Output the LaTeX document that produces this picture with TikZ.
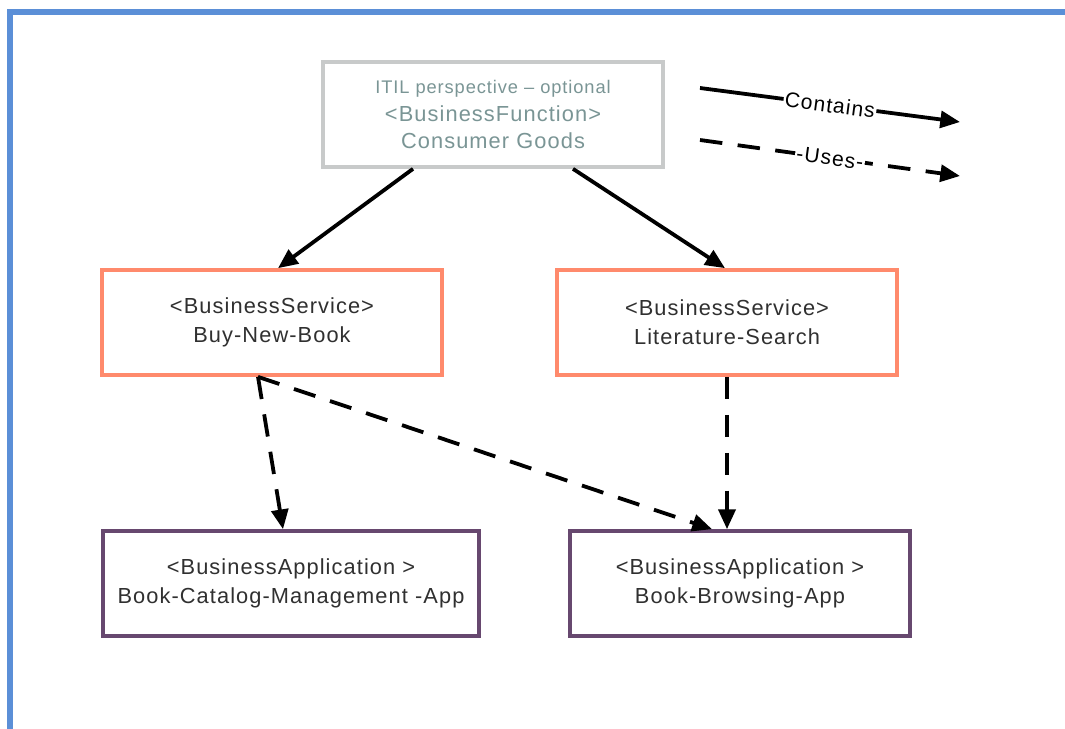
\documentclass[tikz,border=0pt]{standalone}
\usepackage{fontspec}
\setmainfont{Liberation Sans}[LetterSpace=5]
\usetikzlibrary{arrows.meta}
\definecolor{framebl}{HTML}{5B8FD7}
\definecolor{funcgray}{HTML}{C8CACA}
\definecolor{functxt}{HTML}{7A9595}
\definecolor{servor}{HTML}{FF8A6C}
\definecolor{apppu}{HTML}{67486F}
\definecolor{txtgray}{HTML}{303030}
\begin{document}
\begin{tikzpicture}[x=0.025cm,y=-0.025cm,
    box/.style={draw,line width=2.6pt,fill=white,align=center,inner sep=0pt,
        minimum width=8.5cm,minimum height=2.625cm,text=txtgray,
        font=\fontsize{15.5}{20.5}\selectfont},
    func/.style={box,draw=funcgray,text=functxt,font=\fontsize{15.5}{19.5}\selectfont},
    serv/.style={box,draw=servor},
    app/.style={box,draw=apppu},
    contains/.style={line width=2.7pt,-{Triangle[length=14pt,width=12pt]}},
    uses/.style={contains,dash pattern=on 16pt off 11pt},
    legtxt/.style={sloped,fill=white,inner sep=1pt,text=black,font=\fontsize{15}{18}\selectfont}]
    \useasboundingbox (0,0) rectangle (1065,729);
    % frame
    \draw[framebl,line width=3.6pt] (10,729) -- (10,12) -- (1065,12);
    % boxes
    \node[func] (goods) at (493,114.5) {{\fontsize{13}{19.5}\selectfont ITIL perspective -- optional}\\<BusinessFunction>\\Consumer Goods};
    \node[serv] (buy) at (272,322.5) {<BusinessService>\\Buy-New-Book};
    \node[serv] (search) at (727,322.5) {<BusinessService>\\Literature-Search};
    \node[app,minimum width=9.4cm] (catalog) at (291,583.5) {<BusinessApplication >\\Book-Catalog-Management -App};
    \node[app] (browse) at (740,583.5) {<BusinessApplication >\\Book-Browsing-App};
    % connectors
    \draw[contains] (goods.south -| 413,0) -- (buy.north -| 278,0);
    \draw[contains] (goods.south -| 573,0) -- (search.north -| 725,0);
    \draw[uses] (buy.south -| 258,0) -- (catalog.north -| 283,0);
    \draw[uses] (buy.south -| 258,0) -- (browse.north -| 712,0);
    \draw[uses] (search.south -| 727,0) -- (browse.north -| 727,0);
    % legend
    \coordinate (c1) at (700,88);
    \coordinate (c2) at (960,122);
    \coordinate (u1) at (700,140);
    \coordinate (u2) at (960,176);
    \draw[contains] (c1) -- node[legtxt] {Contains} (c2);
    \draw[uses] (u1) -- node[legtxt] {-Uses-} (u2);
\end{tikzpicture}
\end{document}
